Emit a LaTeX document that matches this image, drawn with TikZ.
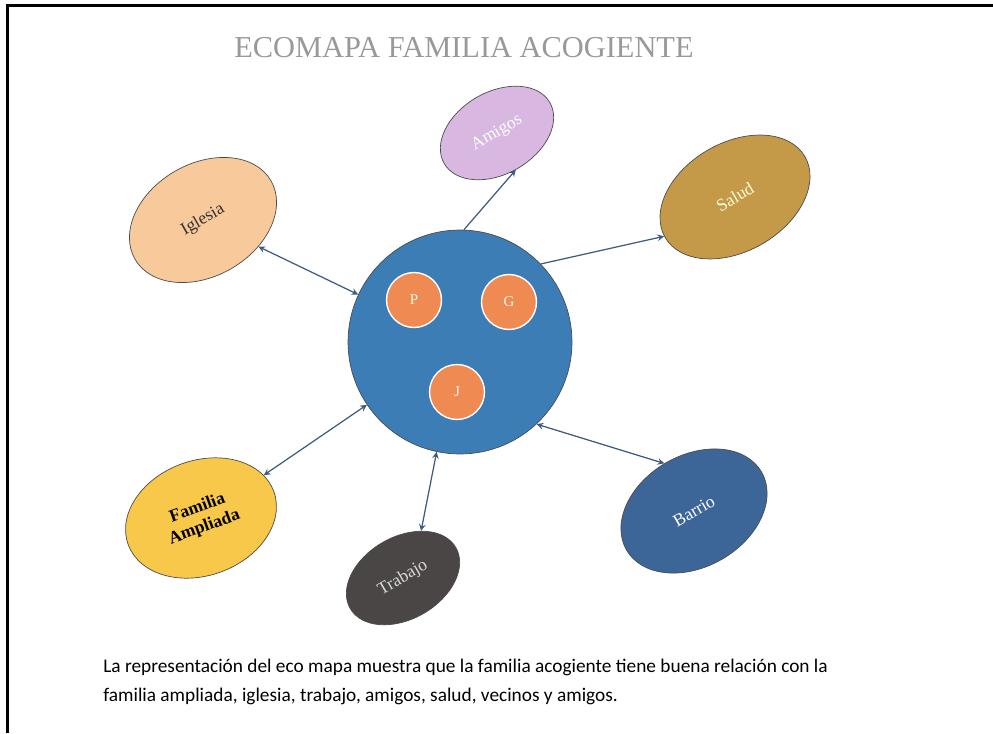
\documentclass[tikz,border=0pt]{standalone}
\usepackage{fontspec}
\setmainfont{Liberation Serif}
\newfontfamily\notefont{Carlito}
\usepackage{tikz}
\usetikzlibrary{arrows}
\usetikzlibrary{shapes}

\definecolor{nucleo}{HTML}{3B7DB4}
\definecolor{naranja}{HTML}{EE8A52}
\definecolor{flecha}{HTML}{3E5A7C}
\definecolor{iglesia}{HTML}{F7C99B}
\definecolor{amigos}{HTML}{D8B8E0}
\definecolor{salud}{HTML}{C49A48}
\definecolor{ampliada}{HTML}{F8C84A}
\definecolor{trabajo}{HTML}{4A4645}
\definecolor{barrio}{HTML}{3D6698}

\begin{document}
\begin{tikzpicture}[x=0.02cm,y=-0.02cm]
\tikzset{font=\fontsize{10}{11}\selectfont}
\tikzset{sistema/.style={ellipse, draw=black!70, line width=0.4pt, inner sep=0pt, rotate=30}}
\tikzset{miembro/.style={circle, fill=naranja, draw=white, line width=0.8pt, minimum size=1.1cm, inner sep=0pt, text=yellow!10, font=\fontsize{8.5}{9}\selectfont}}
\tikzset{vinculo/.style={draw=flecha, line width=0.7pt, >=stealth}}
\useasboundingbox (0,0) rectangle (993,733);
\draw[line width=1.7pt] (7.5,733) -- (7.5,5.5) -- (993,5.5);
\node[font=\fontsize{17.3}{20}\selectfont, text=black!40] (titulo) at (464,48) {ECOMAPA FAMILIA ACOGIENTE};
% familia acogiente
\node[circle, fill=nucleo, draw=black!70, minimum size=4.48cm, inner sep=0pt] (familia) at (460,342) {};
\node[miembro] (p) at (414,300) {P};
\node[miembro] (g) at (509,302) {G};
\node[miembro] (j) at (457,392) {J};
% sistemas externos
\node[sistema, fill=iglesia, text=black!80, minimum width=3.14cm, minimum height=2.25cm] (iglesia) at (203,220) {Iglesia};
\node[sistema, fill=amigos, text=white, minimum width=2.44cm, minimum height=1.64cm] (amigos) at (497,133) {Amigos};
\node[sistema, fill=salud, text=yellow!15, minimum width=3.23cm, minimum height=2.17cm] (salud) at (735,197) {Salud};
\node[sistema, fill=ampliada, text=black, align=center, font=\fontsize{10}{11.5}\bfseries, minimum width=3.1cm, minimum height=2.3cm, rotate=-10] (ampliada) at (201,518) {Familia\\Ampliada};
\node[sistema, fill=trabajo, text=black!15, minimum width=2.44cm, minimum height=1.64cm] (trabajo) at (403,578) {Trabajo};
\node[sistema, fill=barrio, text=white, minimum width=3.12cm, minimum height=2.23cm] (barrio) at (694,511) {Barrio};
\draw[vinculo,<->] (iglesia) -- (familia.155);
\draw[vinculo,->] (familia.88) -- (amigos.-93);
\draw[vinculo,->] (familia.44) -- (salud.179);
\draw[vinculo,<->] (ampliada) -- (familia.214);
\draw[vinculo,<->] (trabajo.39) -- (familia.258);
\draw[vinculo,<->] (barrio.92) -- (familia.313);
\node[anchor=west, align=left, inner sep=0pt, font=\notefont\fontsize{11}{16.5}\selectfont] (nota) at (103,682) {La representación del eco mapa muestra que la familia acogiente tiene buena relación con la\\familia ampliada, iglesia, trabajo, amigos, salud, vecinos y amigos.};
\end{tikzpicture}
\end{document}
